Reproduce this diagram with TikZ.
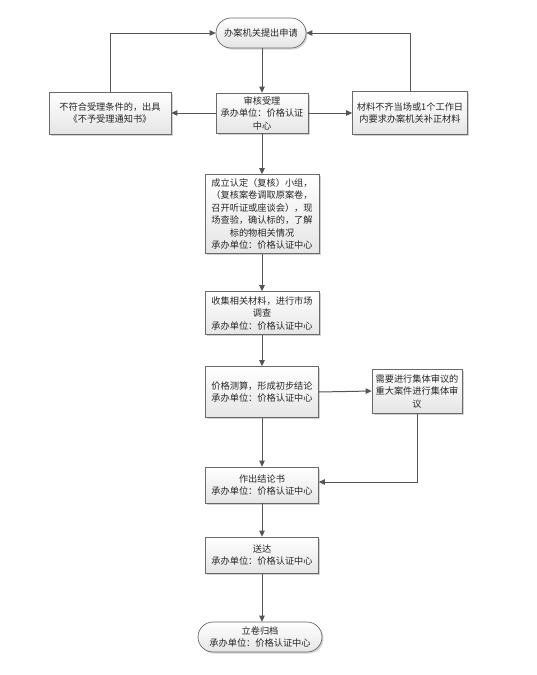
\documentclass[tikz,border=0pt]{standalone}
\usepackage{fontspec}
\setmainfont{Noto Sans CJK SC}
\usetikzlibrary{arrows.meta,shadows,shapes.misc}
\definecolor{edge}{HTML}{555555}
\definecolor{bord}{HTML}{6A6A6A}
\tikzset{
  boxbase/.style={draw=bord, line width=0.7pt, top color=white, bottom color=black!10,
    drop shadow={shadow xshift=1.5pt, shadow yshift=-1.5pt, opacity=0.35},
    align=center, inner sep=0pt, font=\fontsize{9.2pt}{12.5pt}\selectfont, text=black!85},
  procbox/.style={boxbase, rectangle},
  termbox/.style={boxbase, rounded rectangle},
  arr/.style={draw=edge, line width=1pt, -{Triangle[length=6pt,width=5.5pt]}},
}
\begin{document}
\begin{tikzpicture}[x=1pt,y=-1pt]
\useasboundingbox[fill=white] (0,0) rectangle (536,675);
\node[termbox, minimum width=90pt, minimum height=30pt] (top) at (261,33) {办案机关提出申请};
\node[procbox, minimum width=92pt, minimum height=40pt] (sh) at (262,113) {审核受理\\承办单位：价格认证\\中心};
\node[procbox, minimum width=122pt, minimum height=42pt] (lf) at (110,113) {不符合受理条件的，出具\\《不予受理通知书》};
\node[procbox, minimum width=115pt, minimum height=43pt] (rt) at (410,113) {材料不齐当场或1个工作日\\内要求办案机关补正材料};
\node[procbox, minimum width=114pt, minimum height=79pt] (b3) at (262,214) {成立认定（复核）小组，\\（复核案卷调取原案卷，\\召开听证或座谈会），现\\场查验，确认标的，了解\\标的物相关情况\\承办单位：价格认证中心};
\node[procbox, minimum width=114pt, minimum height=43pt] (b4) at (262,313) {收集相关材料，进行市场\\调查\\承办单位：价格认证中心};
\node[procbox, minimum width=113pt, minimum height=51pt] (b5) at (262,392) {价格测算，形成初步结论\\承办单位：价格认证中心};
\node[procbox, minimum width=90pt, minimum height=44pt] (b6) at (417,391) {需要进行集体审议的\\重大案件进行集体审\\议};
\node[procbox, minimum width=113pt, minimum height=36pt] (b7) at (262,485) {作出结论书\\承办单位：价格认证中心};
\node[procbox, minimum width=113pt, minimum height=36pt] (b8) at (262,555) {送达\\承办单位：价格认证中心};
\node[termbox, minimum width=124pt, minimum height=30pt] (b9) at (260,637) {立卷归档\\承办单位：价格认证中心};

\draw[arr] (top.south -| sh.north) -- (sh.north);
\draw[arr] (sh.west) -- (lf.east);
\draw[arr] (sh.east) -- (rt.west);
\draw[arr] (lf.north) |- (top.west);
\draw[arr] (rt.north) |- (top.east);
\draw[arr] (sh.south) -- (b3.north);
\draw[arr] (b3.south) -- (b4.north);
\draw[arr] (b4.south) -- (b5.north);
\draw[arr] (b5.east) -- (b6.west);
\draw[arr] (b5.south) -- (b7.north);
\draw[arr] (b6.south) |- ([yshift=3pt]b7.east);
\draw[arr] (b7.south) -- (b8.north);
\draw[arr] (b8.south) -- (b8.south |- b9.north);
\end{tikzpicture}
\end{document}
